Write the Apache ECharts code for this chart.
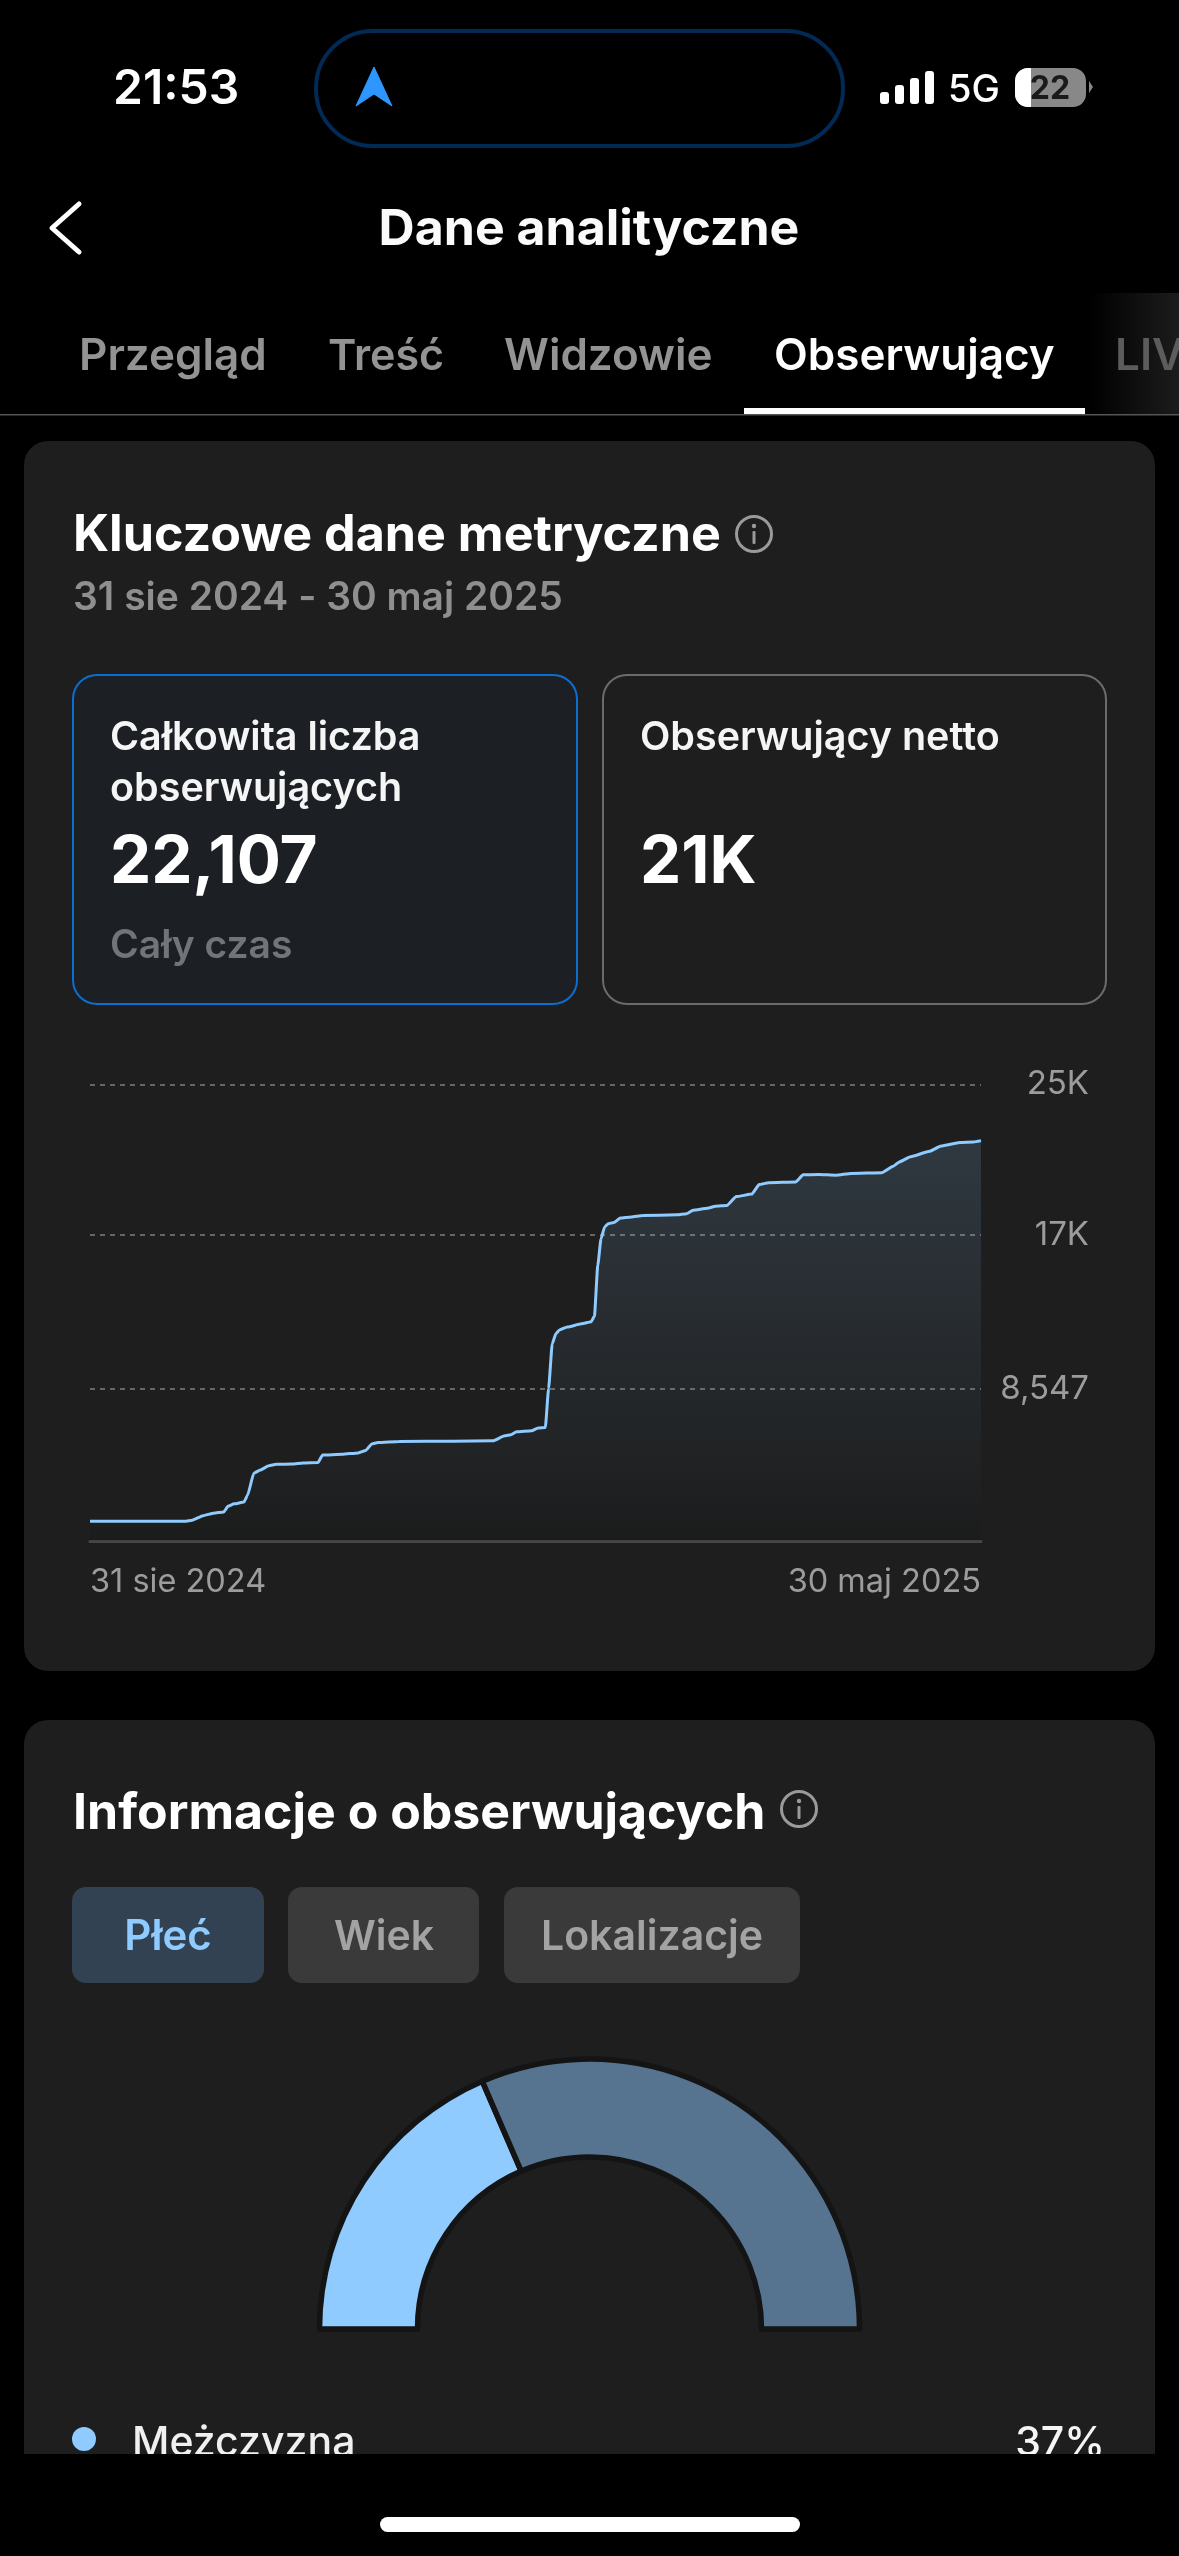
<!DOCTYPE html>
<html lang="pl">
<head>
<meta charset="utf-8">
<title>Dane analityczne</title>
<style>
  html, body { margin: 0; padding: 0; background: #000; }
  #chart { width: 1179px; height: 2556px; }
</style>
</head>
<body>
<div id="chart"></div>
<script src="https://cdn.jsdelivr.net/npm/echarts@6/dist/echarts.min.js"></script>
<script>
// follower curve
const followerDays = [
  0, 29, 31.2, 34.5, 37.7, 40.8, 42.1, 44, 47, 48.1, 50, 52, 54.6, 56.8, 61.7, 65, 69.6, 71, 77, 81.9,
  84.2, 86, 87.9, 94.4, 110.8, 123, 126.6, 128.5, 130.2, 134.8, 136.8, 139, 140, 141.1, 142.2, 143.3,
  145.7, 150, 153, 154, 155, 156, 157.1, 158.2, 159.9, 161.9, 165.2, 168.7, 179.2, 182.1, 184.1, 188.5,
  190.9, 194.4, 197.3, 202, 204.3, 207.2, 215.4, 217.7, 222.4, 227.7, 232.4, 241.7, 245.2, 247, 250.5,
  256.3, 259.8, 265.6, 269.7, 272,
];
const followerCounts = [
  1120, 1120, 1180, 1440, 1580, 1640, 1960, 2100, 2200, 2580, 3820, 4000, 4240, 4320, 4340, 4400, 4420, 4840, 4880, 4960,
  5100, 5460, 5540, 5600, 5620, 5640, 5920, 5980, 6140, 6200, 6360, 6380, 8580, 11080, 11640, 11860,
  12020, 12200, 12320, 12640, 15480, 16980, 17640, 17820, 17880, 18140, 18200, 18280, 18320, 18380, 18580, 18680,
  18800, 18840, 19340, 19480, 20020, 20120, 20160, 20560, 20580, 20540, 20640, 20680, 21040, 21280, 21580,
  21880, 22180, 22380, 22400, 22480,
];
const yTickValues = [8547, 17200, 25641];
const yTickLabels = ['8,547', '17K', '25K'];
const xTickValues = [0, 272];
const xTickLabels = ['31 sie 2024', '30 maj 2025'];

const genderNames = ['Mężczyzna', 'Kobieta'];
const genderShares = [37, 63];
const genderColors = ['#8fcbff', '#567490'];

const FONT = 'Inter, "Noto Sans", sans-serif';
const CARD = '#1e1e1e';

// text placed by its baseline
const label = (text, x, base, size, weight, fill, align, z) => ({
  type: 'text',
  z: z || 5,
  style: {
    text, x, y: base - size * 0.3,
    fontFamily: FONT, fontSize: size, fontWeight: weight, fill,
    textAlign: align || 'left', textVerticalAlign: 'middle',
  },
});
const box = (x, y, w, h, r, style, z) => ({
  type: 'rect',
  z: z || 1,
  shape: { x, y, width: w, height: h, r },
  style,
});
const infoIcon = (cx, cy) => [
  { type: 'circle', z: 5, shape: { cx, cy, r: 17.5 }, style: { fill: null, stroke: '#9a9a9a', lineWidth: 3 } },
  { type: 'circle', z: 5, shape: { cx, cy: cy - 8, r: 2.2 }, style: { fill: '#9a9a9a' } },
  box(cx - 1.5, cy - 3, 3, 13, 1, { fill: '#9a9a9a' }, 5),
];
const signalBars = [[880, 92], [895, 85], [910, 78], [925, 71]].map(([x, top]) =>
  box(x, top, 9, 104 - top, 3, { fill: '#fff' }, 5));

const chrome = [
  // cards
  box(24, 441, 1131, 1230, 24, { fill: CARD }),
  box(24, 1720, 1131, 900, 24, { fill: CARD }),

  // status bar
  label('21:53', 113, 104, 48, 600, '#fff'),
  box(316, 31, 527, 115, 57, { fill: '#000', stroke: '#012a55', lineWidth: 4 }),
  {
    type: 'polygon', z: 5,
    shape: { points: [[374, 67], [392, 106], [374, 94], [356, 106]] },
    style: { fill: '#2e96ff', stroke: '#2e96ff', lineWidth: 1, lineJoin: 'round' },
  },
  ...signalBars,
  label('5G', 948, 102, 38, 500, '#fff'),
  box(1015, 68, 71, 39, 13, { fill: '#888' }, 5),
  box(1015, 68, 16, 39, [13, 0, 0, 13], { fill: '#fff' }, 5),
  {
    type: 'polygon', z: 5,
    shape: { points: [[1089, 81], [1093, 87], [1089, 93]] },
    style: { fill: '#888' },
  },
  label('22', 1050, 99, 32, 700, '#1a1a1a', 'center', 6),

  // nav
  {
    type: 'polyline', z: 5,
    shape: { points: [[79, 204], [52, 228], [79, 252]] },
    style: { fill: null, stroke: '#fff', lineWidth: 5, lineCap: 'round', lineJoin: 'round' },
  },
  label('Dane analityczne', 589, 245, 50, 700, '#fafafa', 'center'),

  // tabs
  box(1090, 293, 89, 121, 0, {
    fill: new echarts.graphic.LinearGradient(0, 0, 1, 0, [
      { offset: 0, color: '#000' },
      { offset: 1, color: '#1c1c1c' },
    ]),
  }, 2),
  label('Przegląd', 79, 370, 44, 600, '#939393'),
  label('Treść', 328, 370, 43, 600, '#939393'),
  label('Widzowie', 504, 370, 44, 600, '#939393'),
  label('Obserwujący', 774, 370, 44, 600, '#fff'),
  label('LIVE', 1115, 370, 44, 600, '#5c5c5c'),
  box(0, 414, 1179, 1.5, 0, { fill: '#555' }, 3),
  box(744, 408, 341, 6, 0, { fill: '#fff' }, 4),

  // key metrics
  label('Kluczowe dane metryczne', 73, 551, 50.2, 700, '#fff'),
  ...infoIcon(754, 534),
  label('31 sie 2024 - 30 maj 2025', 73, 610, 39, 600, '#8f8f8f'),
  box(73, 675, 504, 329, 24, { fill: '#1c2025', stroke: '#0a6fd0', lineWidth: 2 }),
  box(603, 675, 503, 329, 24, { fill: null, stroke: '#6b6b6b', lineWidth: 2 }),
  label('Całkowita liczba', 110, 750, 39.5, 600, '#f5f5f5'),
  label('obserwujących', 110, 801, 39.5, 600, '#f5f5f5'),
  label('22,107', 110, 883, 65.5, 700, '#fff'),
  label('Cały czas', 110, 958, 39, 600, '#71757a'),
  label('Obserwujący netto', 640, 750, 39.5, 600, '#f5f5f5'),
  label('21K', 640, 883, 65.5, 700, '#fff'),

  // follower info
  label('Informacje o obserwujących', 73, 1829, 50, 700, '#fff'),
  ...infoIcon(799, 1809),
  box(72, 1887, 192, 96, 14, { fill: '#324252' }),
  box(288, 1887, 191, 96, 14, { fill: '#3a3a3a' }),
  box(504, 1887, 296, 96, 14, { fill: '#3a3a3a' }),
  label('Płeć', 168, 1950, 42, 600, '#8fcbff', 'center'),
  label('Wiek', 384, 1950, 41, 600, '#a3a3a3', 'center'),
  label('Lokalizacje', 652, 1950, 41, 600, '#a3a3a3', 'center'),

  // legend row, cut off by the bottom bar
  { type: 'circle', z: 5, shape: { cx: 84, cy: 2439, r: 12 }, style: { fill: genderColors[0] } },
  label(genderNames[0], 132, 2456, 41, 500, '#f0f0f0'),
  label(genderShares[0] + '%', 1105, 2456, 41, 500, '#f5f5f5', 'right'),

  // bottom bar
  box(0, 2454, 1179, 102, 0, { fill: '#000' }, 20),
  box(380, 2517, 420, 15, 7.5, { fill: '#fff' }, 21),
];

const chart = echarts.init(document.getElementById('chart'), null, { renderer: 'canvas' });

chart.setOption({
  animation: false,
  backgroundColor: '#000',
  textStyle: { fontFamily: FONT },
  grid: { left: 90, right: 198, top: 1084.3, height: 457 },
  xAxis: {
    type: 'value',
    z: 2,
    min: 0,
    max: 272,
    splitLine: { show: false },
    axisTick: { show: false },
    axisLine: { show: true, onZero: false, lineStyle: { color: '#474747', width: 3 } },
    axisLabel: {
      customValues: xTickValues,
      formatter: (v) => xTickLabels[xTickValues.indexOf(v)],
      alignMinLabel: 'left',
      alignMaxLabel: 'right',
      margin: 24,
      fontFamily: FONT,
      fontSize: 32.5,
      color: '#9c9c9c',
    },
  },
  yAxis: {
    type: 'value',
    z: 2,
    position: 'right',
    min: 0,
    max: 25641,
    axisLine: { show: false },
    axisTick: { show: false, customValues: yTickValues },
    splitLine: { lineStyle: { color: '#666', width: 2, type: [5, 5] } },
    axisLabel: {
      customValues: yTickValues,
      formatter: (v) => yTickLabels[yTickValues.indexOf(v)],
      align: 'right',
      margin: 108,
      fontFamily: FONT,
      fontSize: 33,
      color: '#9c9c9c',
    },
  },
  series: [
    {
      type: 'line',
      z: 3,
      data: followerDays.map((d, i) => [d, followerCounts[i]]),
      smooth: 0.15,
      smoothMonotone: 'x',
      showSymbol: false,
      lineStyle: { color: '#8fcbff', width: 3 },
      areaStyle: {
        color: new echarts.graphic.LinearGradient(0, 0, 0, 1, [
          { offset: 0, color: 'rgba(143,203,255,0.22)' },
          { offset: 0.5, color: 'rgba(143,203,255,0.10)' },
          { offset: 1, color: 'rgba(0,0,0,0.13)' },
        ]),
      },
    },
    {
      type: 'pie',
      z: 3,
      center: [589.5, 2329],
      radius: [172, 270],
      startAngle: 180,
      endAngle: 360,
      clockwise: true,
      silent: true,
      label: { show: false },
      labelLine: { show: false },
      data: genderNames.map((name, i) => ({
        name,
        value: genderShares[i],
        itemStyle: { color: genderColors[i], borderColor: '#141414', borderWidth: 5.5 },
      })),
    },
  ],
  graphic: { elements: chrome },
});
</script>
</body>
</html>
